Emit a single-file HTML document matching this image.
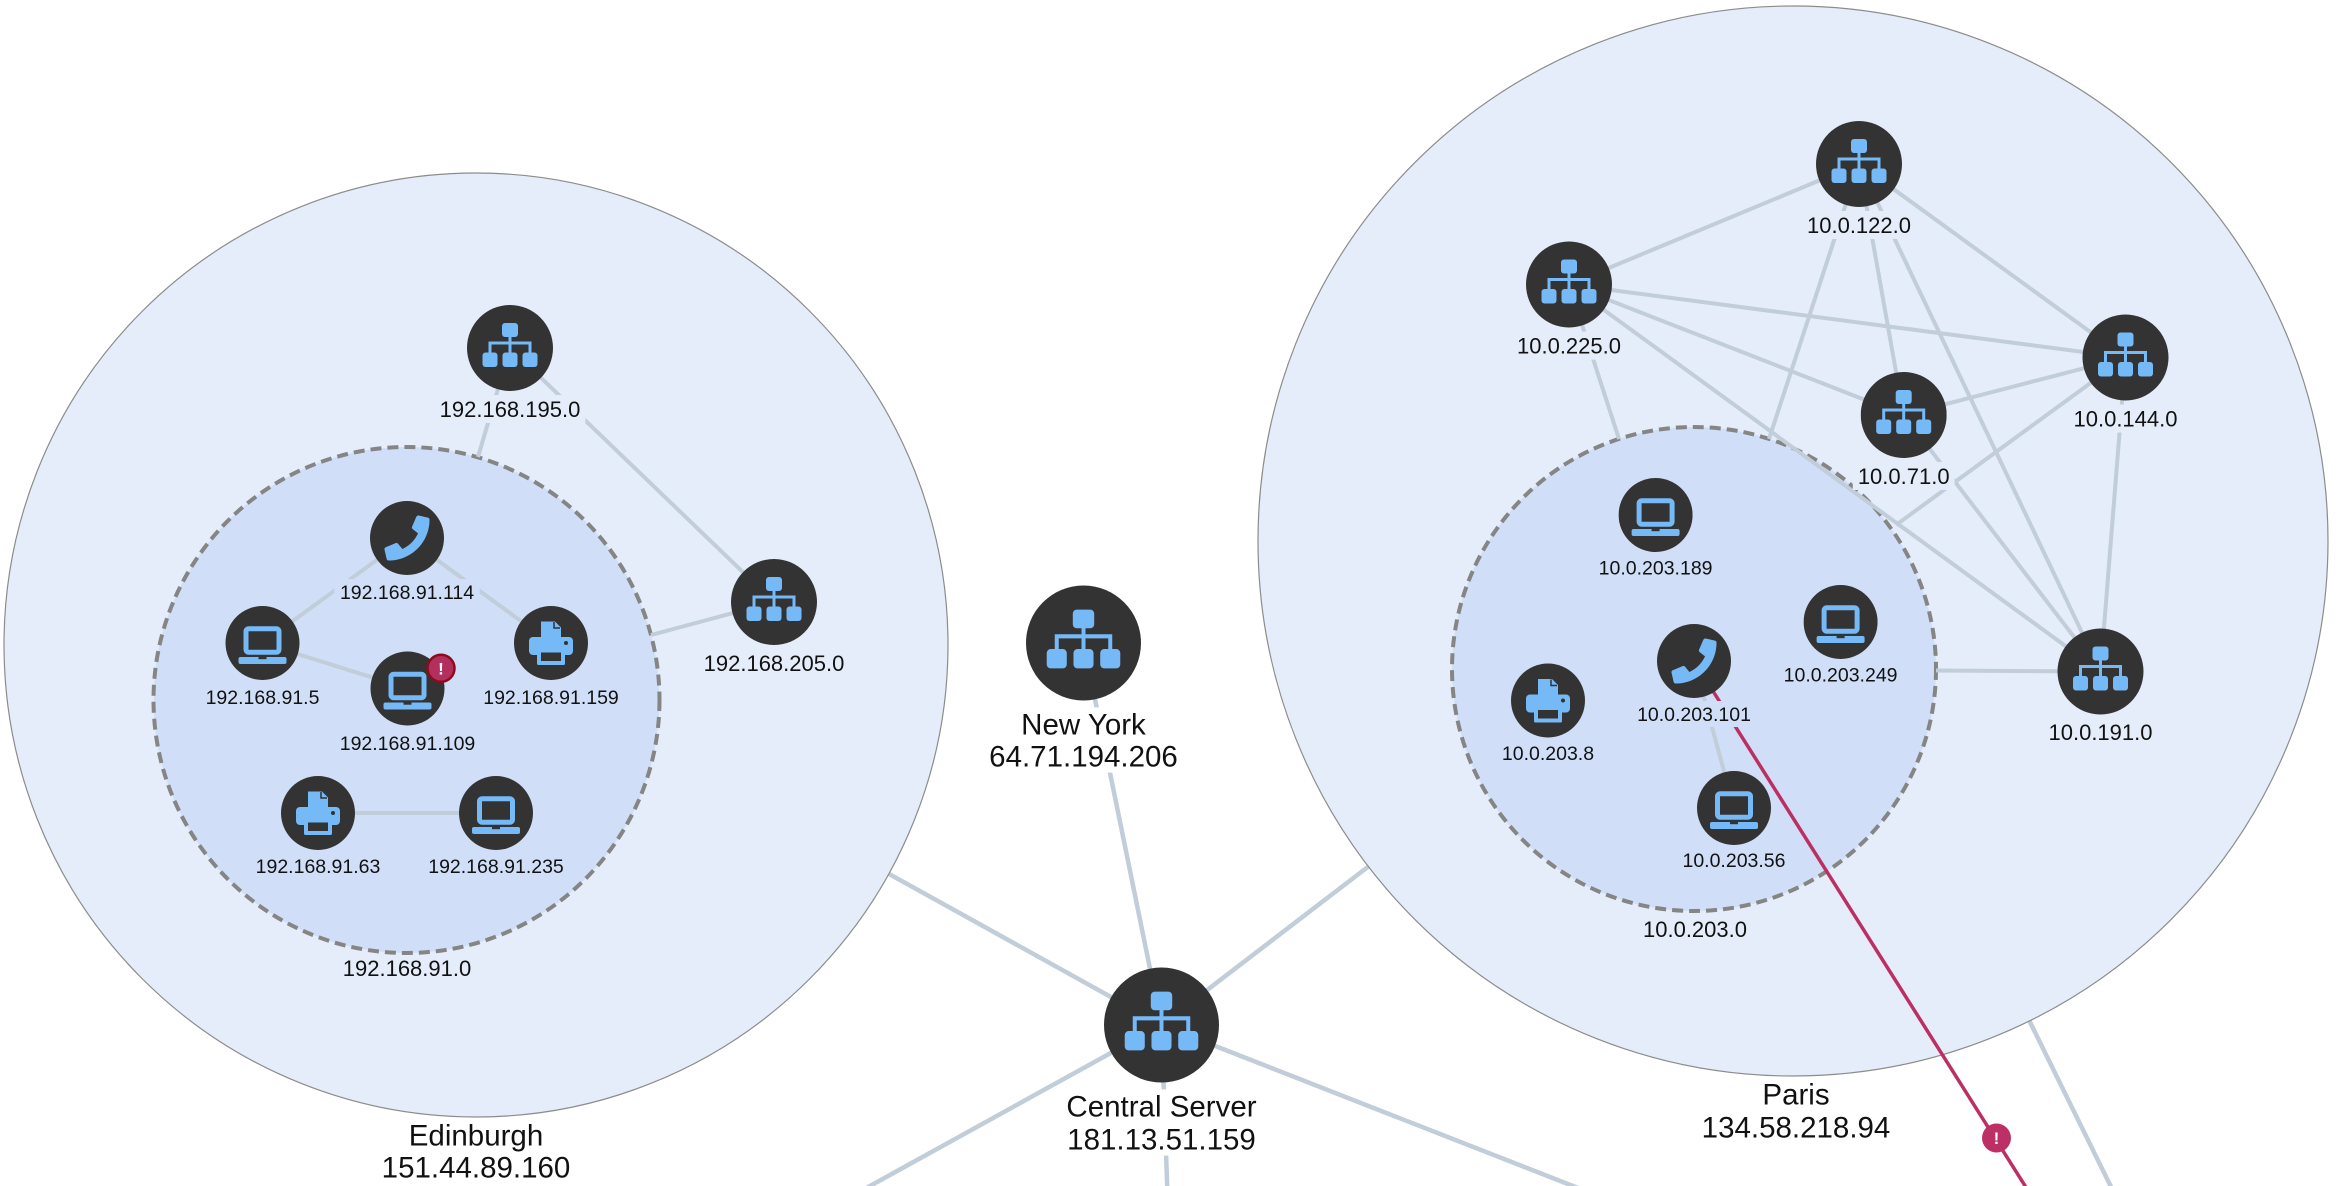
<!DOCTYPE html>
<html>
<head>
<meta charset="utf-8">
<style>
html,body{margin:0;padding:0;background:#fff;}
body{width:2337px;height:1186px;overflow:hidden;}
svg{display:block;}
text{font-family:"Liberation Sans",Arial,sans-serif;fill:#111;}
</style>
</head>
<body>
<svg width="2337" height="1186" viewBox="0 0 2337 1186" xmlns="http://www.w3.org/2000/svg">
<defs>
  <symbol id="router" viewBox="-43 -43 86 86">
    <circle r="43" fill="#333333"/>
    <rect x="-8" y="-25" width="16" height="14" rx="3" fill="#76b9f7"/>
    <rect x="-1.5" y="-12" width="3" height="17" fill="#76b9f7"/>
    <path d="M-20 6 V-5 H20 V6" stroke="#76b9f7" stroke-width="3" fill="none"/>
    <rect x="-27.5" y="4.5" width="15" height="14.5" rx="3" fill="#76b9f7"/>
    <rect x="-7.5" y="4.5" width="15" height="14.5" rx="3" fill="#76b9f7"/>
    <rect x="12.5" y="4.5" width="15" height="14.5" rx="3" fill="#76b9f7"/>
  </symbol>
  <symbol id="laptop" viewBox="-37 -37 74 74">
    <circle r="37" fill="#333333"/>
    <rect x="-16.5" y="-14.2" width="33" height="23.4" rx="2.5" fill="none" stroke="#76b9f7" stroke-width="5"/>
    <rect x="-24" y="14" width="48" height="7" rx="2" fill="#76b9f7"/>
    <rect x="-4" y="14" width="8" height="2.2" fill="#333333"/>
  </symbol>
  <symbol id="printer" viewBox="-37 -37 74 74">
    <circle r="37" fill="#333333"/>
    <path d="M-10 -21.5 H4 L10 -15.5 V-4 H-10 Z" fill="#76b9f7"/>
    <path d="M3 -21 V-15 H9" fill="none" stroke="#333333" stroke-width="1.5"/>
    <rect x="-22" y="-6" width="44" height="18" rx="4" fill="#76b9f7"/>
    <rect x="-14" y="4" width="28" height="18" rx="1.5" fill="#76b9f7"/>
    <rect x="-10" y="9.5" width="20" height="8.5" fill="#333333"/>
    <circle cx="15" cy="0" r="2" fill="#333333"/>
  </symbol>
  <symbol id="phone" viewBox="-37 -37 74 74">
    <circle r="37" fill="#333333"/>
    <path transform="scale(-0.088,0.088) translate(-256,-256)" fill="#76b9f7" d="M497.39 361.8l-112-48a24 24 0 0 0-28 6.9l-49.6 60.6A370.66 370.66 0 0 1 130.6 204.11l60.6-49.6a23.94 23.94 0 0 0 6.9-28l-48-112A24.16 24.16 0 0 0 122.6.61l-104 24A24 24 0 0 0 0 48c0 256.5 207.9 464 464 464a24 24 0 0 0 23.4-18.6l24-104a24.29 24.29 0 0 0-14.01-27.6z"/>
  </symbol>
</defs>

<!-- top-level edges -->
<g stroke="#c1cdd8" stroke-width="4.5" fill="none">
  <line x1="1083.5" y1="643" x2="1161.5" y2="1025"/>
  <line x1="1161.5" y1="1025" x2="888.8" y2="873.8"/>
  <line x1="1161.5" y1="1025" x2="1368.4" y2="866.5"/>
  <line x1="1161.5" y1="1025" x2="853.7" y2="1195"/>
  <line x1="1161.5" y1="1025" x2="1167.5" y2="1195"/>
  <line x1="1161.5" y1="1025" x2="1596" y2="1195"/>
  <line x1="2029.5" y1="1021" x2="2115" y2="1195"/>
</g>

<!-- outer groups -->
<circle cx="476" cy="645" r="472" fill="#e5edfa" stroke="#8c8c8c" stroke-width="1.2"/>
<circle cx="1793" cy="541" r="535" fill="#e5edfa" stroke="#8c8c8c" stroke-width="1.2"/>

<!-- inner groups -->
<circle cx="406.5" cy="700" r="253" fill="#d0dff7" stroke="#858585" stroke-width="4" stroke-dasharray="11 6"/>
<circle cx="1694" cy="669" r="242" fill="#d0dff7" stroke="#858585" stroke-width="4" stroke-dasharray="11 6"/>

<!-- internal edges -->
<g stroke="#c1cdd8" stroke-width="4" fill="none">
  <!-- Edinburgh -->
  <line x1="510" y1="348" x2="774" y2="602"/>
  <line x1="510" y1="348" x2="478" y2="457"/>
  <line x1="774" y1="602" x2="651" y2="635"/>
  <line x1="262.5" y1="643" x2="407" y2="538"/>
  <line x1="407" y1="538" x2="551" y2="643"/>
  <line x1="262.5" y1="643" x2="407.5" y2="688.5"/>
  <line x1="318" y1="813" x2="496" y2="813"/>
  <!-- Paris -->
  <line x1="1569" y1="284.5" x2="1859" y2="164"/>
  <line x1="1569" y1="284.5" x2="2125.5" y2="357.5"/>
  <line x1="1569" y1="284.5" x2="1903.7" y2="415"/>
  <line x1="1569" y1="284.5" x2="2100.5" y2="671.5"/>
  <line x1="1569" y1="284.5" x2="1619" y2="439"/>
  <line x1="1859" y1="164" x2="1769" y2="439"/>
  <line x1="1859" y1="164" x2="1903.7" y2="415"/>
  <line x1="1859" y1="164" x2="2100.5" y2="671.5"/>
  <line x1="1859" y1="164" x2="2125.5" y2="357.5"/>
  <line x1="1903.7" y1="415" x2="2125.5" y2="357.5"/>
  <line x1="2125.5" y1="357.5" x2="1896" y2="525"/>
  <line x1="2125.5" y1="357.5" x2="2100.5" y2="671.5"/>
  <line x1="1903.7" y1="415" x2="2100.5" y2="671.5"/>
  <line x1="1936" y1="670.5" x2="2100.5" y2="671.5"/>
  <line x1="1694" y1="661" x2="1734" y2="808"/>
</g>

<!-- alert edge -->
<line x1="1694" y1="661" x2="2034" y2="1200" stroke="#bc2f63" stroke-width="3.5"/>

<!-- label backgrounds -->
<g fill="#d0dff7">
  <rect x="334.25" y="579" width="145.5" height="26"/>
  <rect x="200.55" y="684" width="123.9" height="26"/>
  <rect x="334.75" y="730" width="145.5" height="26"/>
  <rect x="478.25" y="684" width="145.5" height="26"/>
  <rect x="250.65" y="853" width="134.7" height="26"/>
  <rect x="423.25" y="853" width="145.5" height="26"/>
  <rect x="1593.65" y="554.5" width="123.9" height="26"/>
  <rect x="1778.65" y="661.6" width="123.9" height="26"/>
  <rect x="1632.05" y="701" width="123.9" height="26"/>
  <rect x="1496.95" y="740" width="102.1" height="26"/>
  <rect x="1677.5" y="847" width="113" height="26"/>
</g>
<g fill="#e5edfa">
  <rect x="434.65" y="395" width="150.7" height="28"/>
  <rect x="698.65" y="649" width="150.7" height="28"/>
  <rect x="1802" y="211" width="114" height="28"/>
  <rect x="1512" y="331.6" width="114" height="28"/>
  <rect x="2068.5" y="404.5" width="114" height="28"/>
  <rect x="1852.8" y="462" width="101.8" height="28"/>
  <rect x="2043.5" y="718" width="114" height="28"/>
  <rect x="337.8" y="956" width="138.4" height="26"/>
  <rect x="1638" y="916" width="114" height="26"/>
</g>
<g fill="#ffffff">
  <rect x="1014.55" y="707.4" width="137.9" height="33.2"/>
  <rect x="984.2" y="739.4" width="198.6" height="33.2"/>
  <rect x="1061.5" y="1089.4" width="200" height="33.2"/>
  <rect x="1062.2" y="1122.4" width="198.6" height="33.2"/>
</g>

<!-- nodes -->
<use href="#router" x="467" y="305" width="86" height="86"/>
<use href="#router" x="731" y="559" width="86" height="86"/>
<use href="#router" x="1816" y="121" width="86" height="86"/>
<use href="#router" x="1526" y="241.5" width="86" height="86"/>
<use href="#router" x="2082.5" y="314.5" width="86" height="86"/>
<use href="#router" x="1860.7" y="372" width="86" height="86"/>
<use href="#router" x="2057.5" y="628.5" width="86" height="86"/>
<use href="#router" x="1026" y="585.5" width="115" height="115"/>
<use href="#router" x="1104" y="967.5" width="115" height="115"/>

<use href="#phone" x="370" y="501" width="74" height="74"/>
<use href="#phone" x="1657" y="624" width="74" height="74"/>

<use href="#laptop" x="225.5" y="606" width="74" height="74"/>
<use href="#laptop" x="370.5" y="651.5" width="74" height="74"/>
<use href="#laptop" x="459" y="776" width="74" height="74"/>
<use href="#laptop" x="1618.6" y="478" width="74" height="74"/>
<use href="#laptop" x="1803.6" y="585" width="74" height="74"/>
<use href="#laptop" x="1697" y="771" width="74" height="74"/>

<use href="#printer" x="514" y="606" width="74" height="74"/>
<use href="#printer" x="281" y="776" width="74" height="74"/>
<use href="#printer" x="1511" y="663.5" width="74" height="74"/>

<!-- badges -->
<circle cx="441" cy="668.3" r="13.5" fill="#b3305e" stroke="#8b0d1c" stroke-width="2.5"/>
<text x="441" y="674.5" text-anchor="middle" font-size="17" font-weight="bold" style="fill:#fff">!</text>
<circle cx="1996.5" cy="1138" r="14.5" fill="#bc3065"/>
<text x="1996.5" y="1144.2" text-anchor="middle" font-size="17" font-weight="bold" style="fill:#fff">!</text>

<!-- labels -->
<g font-size="19.5" text-anchor="middle">
  <text x="407" y="599">192.168.91.114</text>
  <text x="262.5" y="704">192.168.91.5</text>
  <text x="407.5" y="750">192.168.91.109</text>
  <text x="551" y="704">192.168.91.159</text>
  <text x="318" y="873">192.168.91.63</text>
  <text x="496" y="873">192.168.91.235</text>
  <text x="1655.6" y="574.5">10.0.203.189</text>
  <text x="1840.6" y="681.6">10.0.203.249</text>
  <text x="1694" y="721">10.0.203.101</text>
  <text x="1548" y="760">10.0.203.8</text>
  <text x="1734" y="867">10.0.203.56</text>
</g>
<g font-size="22" text-anchor="middle">
  <text x="510" y="416.9">192.168.195.0</text>
  <text x="774" y="670.9">192.168.205.0</text>
  <text x="1859" y="232.9">10.0.122.0</text>
  <text x="1569" y="353.5">10.0.225.0</text>
  <text x="2125.5" y="426.4">10.0.144.0</text>
  <text x="1903.7" y="483.9">10.0.71.0</text>
  <text x="2100.5" y="739.9">10.0.191.0</text>
  <text x="407" y="975.9">192.168.91.0</text>
  <text x="1695" y="936.9">10.0.203.0</text>
</g>
<g font-size="29.5" text-anchor="middle">
  <text x="1083.5" y="734.6">New York</text>
  <text x="1083.5" y="766.6">64.71.194.206</text>
  <text x="1161.5" y="1116.6">Central Server</text>
  <text x="1161.5" y="1149.6">181.13.51.159</text>
  <text x="476" y="1145.6">Edinburgh</text>
  <text x="476" y="1177.6">151.44.89.160</text>
  <text x="1796" y="1104.6">Paris</text>
  <text x="1796" y="1137.6">134.58.218.94</text>
</g>
</svg>
</body>
</html>
